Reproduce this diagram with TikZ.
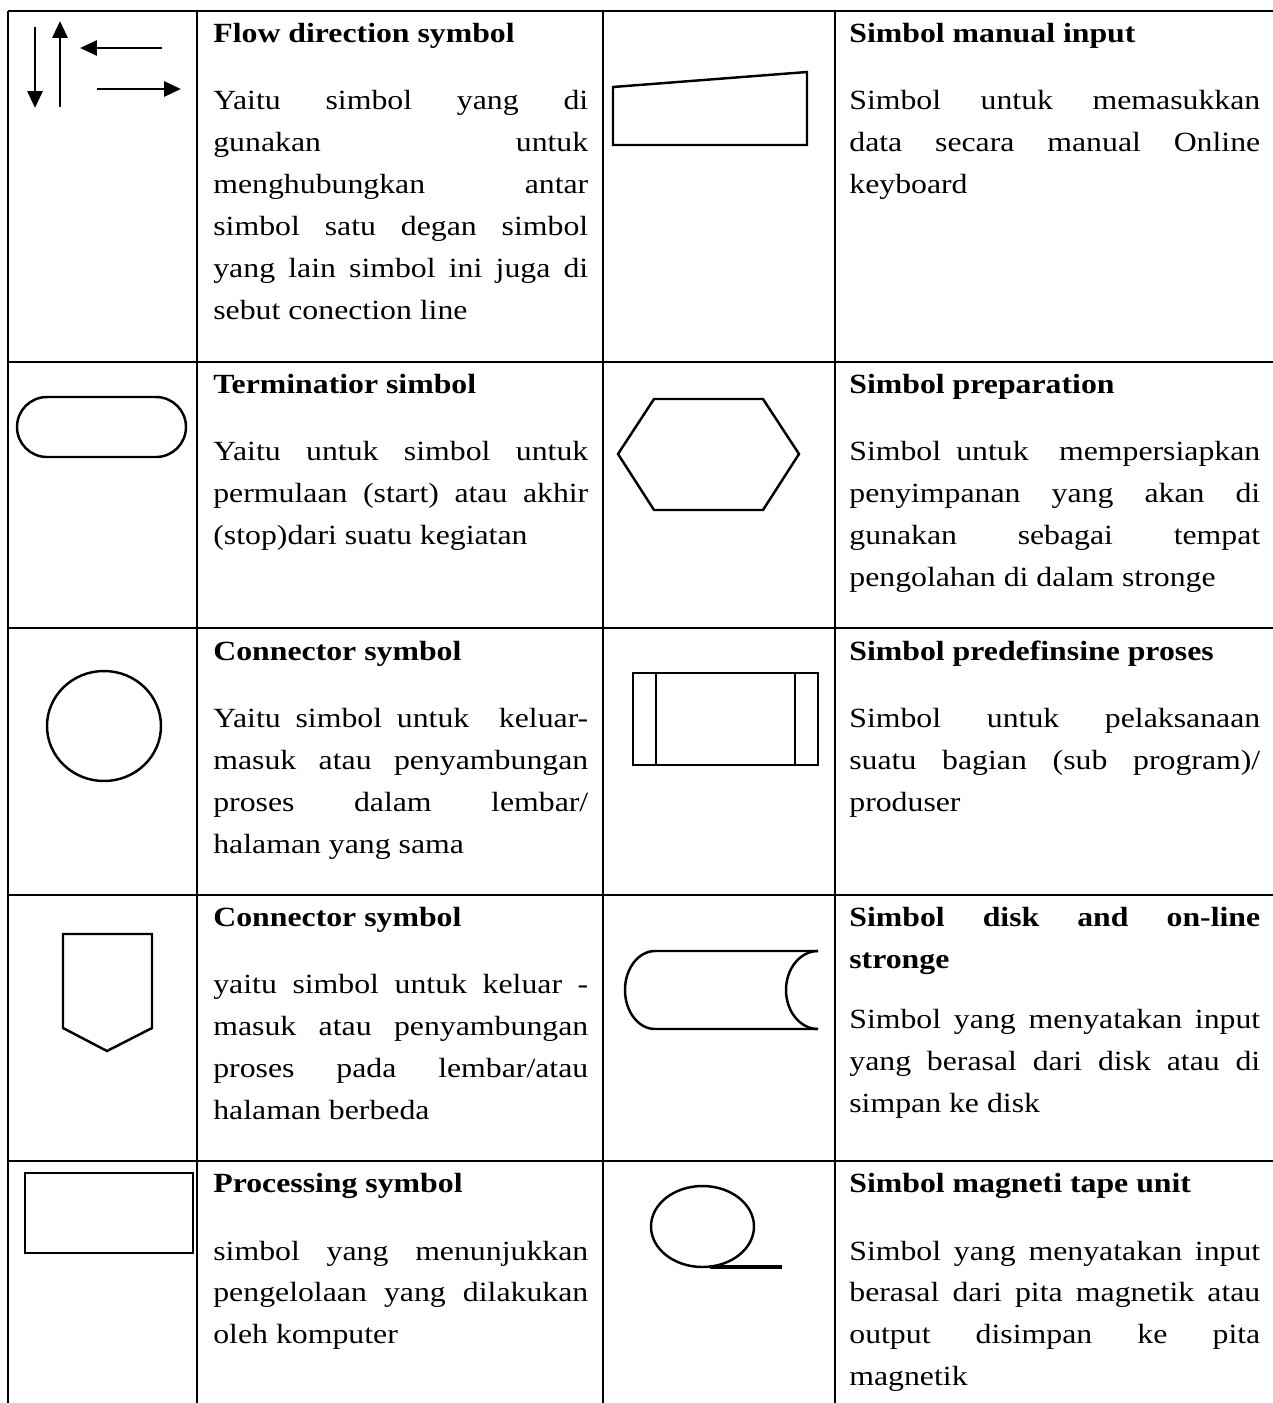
\documentclass[tikz,border=0pt]{standalone}
\usepackage{fontspec}
\setmainfont{Liberation Serif}[FakeStretch=1.145]
\usetikzlibrary{arrows.meta}

\tikzset{
  grid/.style={line width=1.4pt},
  symb/.style={line width=1.4pt, line join=miter},
  flow/.style={line width=1.7pt, -{Triangle[length=0.34cm,width=0.3cm]}},
  celltext/.style={anchor=base west, inner sep=0pt}
}
\newcommand{\gap}[1][0.52cm]{\par\vspace{#1}}
\newcommand{\cellbox}[2]{\parbox[t]{#1}{\fontsize{15.8}{23.9}\selectfont
  \tolerance=10000 \hbadness=10000 \hyphenpenalty=10000 \relax #2}}
\newcommand{\lefttext}[1]{\cellbox{7.5cm}{#1}}
\newcommand{\righttext}[1]{\cellbox{8.22cm}{#1}}

\begin{document}
\begin{tikzpicture}[x=0.02cm, y=-0.02cm]
\useasboundingbox (0,0) rectangle (1273,1403);

% table
\draw[grid] (8,11) -- (1273,11);
\foreach \ry in {362,628,895,1161}
  \draw[grid] (8,\ry) -- (1273,\ry);
\foreach \cx in {8,197,603,835}
  \draw[grid] (\cx,11) -- (\cx,1403);

% row 1
\draw[flow] (35,27) -- (35,108);
\draw[flow] (60,107) -- (60,21);
\draw[flow] (162,48) -- (80,48);
\draw[flow] (97,89) -- (181,89);
\node[celltext] (flowtxt) at (213,42) {\lefttext{\textbf{Flow direction symbol}\gap
  Yaitu simbol yang di\linebreak gunakan untuk\linebreak menghubungkan antar\linebreak
  simbol satu degan simbol\linebreak yang lain simbol ini juga di\linebreak sebut conection line}};
\draw[symb] (613,87) -- (807,72) -- (807,145) -- (613,145) -- cycle;
\node[celltext] (manualtxt) at (849,42) {\righttext{\textbf{Simbol manual input}\gap
  Simbol untuk memasukkan\linebreak data secara manual Online\linebreak keyboard}};

% row 2
\draw[symb, rounded corners=0.6cm] (17,397) rectangle (186,457);
\node[celltext] (termtxt) at (213,393) {\lefttext{\textbf{Terminatior simbol}\gap
  Yaitu untuk simbol untuk\linebreak permulaan (start) atau akhir\linebreak (stop)dari suatu kegiatan}};
\draw[symb] (618,454) -- (654,399) -- (763,399) -- (799,454) -- (763,510) -- (654,510) -- cycle;
\node[celltext] (preptxt) at (849,393) {\righttext{\textbf{Simbol preparation}\gap
  Simbol untuk~ mempersiapkan\linebreak penyimpanan yang akan di\linebreak
  gunakan sebagai tempat\linebreak pengolahan di dalam stronge}};

% row 3
\draw[symb] (104,726) ellipse [x radius=57, y radius=55];
\node[celltext] (contxt) at (213,660) {\lefttext{\textbf{Connector symbol}\gap
  Yaitu simbol untuk~ keluar-\linebreak masuk atau penyambungan\linebreak
  proses dalam lembar/\linebreak halaman yang sama}};
\draw[symb] (633,673) rectangle (818,765);
\draw[symb] (656,673) -- (656,765);
\draw[symb] (795,673) -- (795,765);
\node[celltext] (predtxt) at (849,660) {\righttext{\textbf{Simbol predefinsine proses}\gap
  Simbol untuk pelaksanaan\linebreak suatu bagian (sub program)/\linebreak produser}};

% row 4
\draw[symb] (63,934) -- (152,934) -- (152,1028) -- (107,1051) -- (63,1028) -- cycle;
\node[celltext] (offtxt) at (213,926) {\lefttext{\textbf{Connector symbol}\gap
  yaitu simbol untuk keluar -\linebreak masuk atau penyambungan\linebreak
  proses pada lembar/atau\linebreak halaman berbeda}};
\draw[symb] (818,951) -- (655,951)
  arc[start angle=270, end angle=90, x radius=30, y radius=39] -- (818,1029);
\draw[symb] (818,951) arc[start angle=270, end angle=90, x radius=32, y radius=39];
\node[celltext] (disktxt) at (849,926) {\righttext{\textbf{Simbol disk and on-line\linebreak stronge}\gap[0.38cm]
  Simbol yang menyatakan input\linebreak yang berasal dari disk atau di\linebreak simpan ke disk}};

% row 5
\draw[symb] (25,1173) rectangle (193,1253);
\node[celltext] (proctxt) at (213,1192) {\lefttext{\textbf{Processing symbol}\gap
  simbol yang menunjukkan\linebreak pengelolaan yang dilakukan\linebreak oleh komputer}};
\draw[symb] (702.5,1226.5) ellipse [x radius=51.5, y radius=40.5];
\draw[line width=2.2pt] (710,1267) -- (782,1267);
\node[celltext] (tapetxt) at (849,1192) {\righttext{\textbf{Simbol magneti tape unit}\gap
  Simbol yang menyatakan input\linebreak berasal dari pita magnetik atau\linebreak
  output disimpan ke pita\linebreak magnetik}};
\end{tikzpicture}
\end{document}
